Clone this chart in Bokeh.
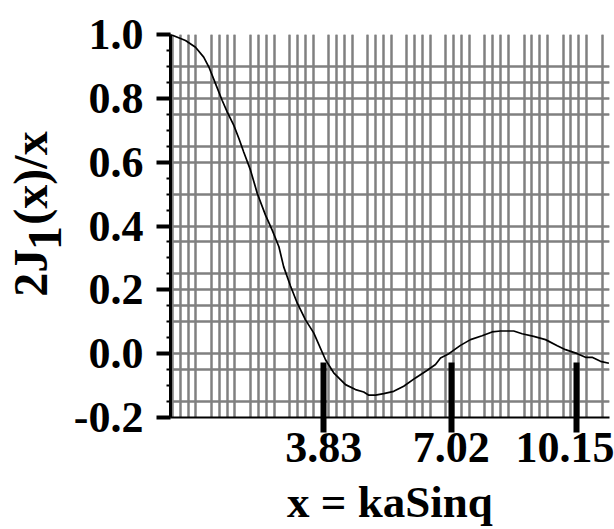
import numpy as np
from bokeh.plotting import figure
from bokeh.models import FixedTicker, Grid, LinearAxis, NumeralTickFormatter, Range1d
from bokeh.embed import file_html
from bokeh.resources import INLINE

# ---- data ----
x_vals = [0.0, 0.375, 0.625, 0.83, 0.96, 1.125, 1.29, 1.42, 1.58, 1.71, 1.83, 2.0,
          2.17, 2.375, 2.54, 2.71, 2.83, 3.0, 3.17, 3.375, 3.58, 3.875, 4.08, 4.375,
          4.625, 4.83, 4.96, 5.125, 5.33, 5.58, 5.83, 6.125, 6.42, 6.625, 6.75, 6.96,
          7.25, 7.5, 7.79, 8.04, 8.25, 8.58, 8.79, 9.08, 9.375, 9.67, 9.875, 10.17,
          10.375, 10.54, 10.75, 10.96]
y_vals = [1.0, 0.981, 0.96, 0.929, 0.898, 0.846, 0.794, 0.757, 0.716, 0.674, 0.632, 0.575,
          0.502, 0.434, 0.388, 0.335, 0.272, 0.212, 0.158, 0.106, 0.065, -0.019, -0.06, -0.097,
          -0.1125, -0.12, -0.130, -0.130, -0.125, -0.118, -0.102, -0.076, -0.052, -0.034, -0.0135, 0.0,
          0.026, 0.044, 0.056, 0.068, 0.071, 0.071, 0.0625, 0.054, 0.044, 0.025, 0.0125, 0.0,
          -0.0115, -0.0115, -0.024, -0.030]
x_tick_values = [3.83, 7.02, 10.15]
y_tick_values = [-0.2, 0.0, 0.2, 0.4, 0.6, 0.8, 1.0]
x_label = "x = kaSinq"
y_label_main = ["2J", "(x)/x"]
y_label_sub = "1"

# ---- layout ----
W, H = 614, 529
LEFT, RIGHT, TOP, BOTTOM = 170, 5, 34, 112
X_END = (W - LEFT - RIGHT) / 40.0
Y0, Y1 = -0.2, 1.0
FONT = "Liberation Serif"
NB = "\u00a0"

p = figure(width=W, height=H, output_backend="svg", toolbar_location=None,
           x_range=Range1d(0, X_END), y_range=Range1d(Y0, Y1),
           min_border_left=LEFT, min_border_right=RIGHT, min_border_top=TOP,
           min_border_bottom=BOTTOM)
p.outline_line_color = None
p.background_fill_color = "white"
p.border_fill_color = "white"

# ---- graph-paper grid ----
base, step = 1.8075, 0.1953
dark_x, light_x = [], []
for j in range(-10, 52):
    v = round(base + step * j, 4)
    if 0.02 < v < X_END:
        (light_x if j % 5 == 0 else dark_x).append(v)
light_y = [0.95, 0.7, 0.55, 0.45, 0.3, 0.05, -0.1]
dark_y = [round(v, 3) for v in np.arange(-0.15, 1.0001, 0.05)
          if all(abs(v - l) > 1e-6 for l in light_y)]

p.add_layout(Grid(dimension=0, ticker=FixedTicker(ticks=light_x),
                  grid_line_color="#d4d4d4", grid_line_width=1), "center")
p.add_layout(Grid(dimension=1, ticker=FixedTicker(ticks=light_y),
                  grid_line_color="#d4d4d4", grid_line_width=1), "center")
p.xgrid.ticker = FixedTicker(ticks=dark_x)
p.ygrid.ticker = FixedTicker(ticks=dark_y)
for g in (p.xgrid, p.ygrid):
    g.grid_line_color = "#808080"
    g.grid_line_width = 2

# ---- curve ----
p.line(x_vals, y_vals, line_color="black", line_width=1.7)

# ---- axes ----
minor_y = [round(v, 3) for v in np.arange(-0.2, 1.0001, 0.05)]
p.xaxis.ticker = FixedTicker(ticks=x_tick_values, minor_ticks=[])
p.xaxis.formatter = NumeralTickFormatter(format="0.00")
p.xaxis.major_tick_in = 55
p.xaxis.major_tick_out = 15
p.xaxis.major_tick_line_width = 6
p.xaxis.major_tick_line_color = "black"
p.xaxis.minor_tick_line_color = None
p.xaxis.axis_line_width = 2
p.xaxis.axis_line_color = "black"
p.xaxis.major_label_standoff = 0
p.xaxis.axis_label = x_label
p.xaxis.axis_label_standoff = 12
p.xaxis.axis_label_text_font = FONT
p.xaxis.axis_label_text_font_style = "bold"
p.xaxis.axis_label_text_font_size = "45px"
p.xaxis.axis_label_text_color = "black"

p.yaxis.ticker = FixedTicker(ticks=y_tick_values, minor_ticks=minor_y)
p.yaxis.formatter = NumeralTickFormatter(format="0.0")
p.yaxis.major_tick_in = 0
p.yaxis.major_tick_out = 14
p.yaxis.major_tick_line_width = 4
p.yaxis.major_tick_line_color = "black"
p.yaxis.minor_tick_in = 0
p.yaxis.minor_tick_out = 4
p.yaxis.minor_tick_line_width = 2
p.yaxis.minor_tick_line_color = "black"
p.yaxis.axis_line_width = 3
p.yaxis.axis_line_color = "black"
p.yaxis.major_label_standoff = 13

for ax in (p.xaxis, p.yaxis):
    ax.major_label_text_font = FONT
    ax.major_label_text_font_style = "bold"
    ax.major_label_text_font_size = "44px"
    ax.major_label_text_color = "black"

# y title: subscript "1" on the main axis, the rest on an outer blank axis
YL = 48
p.yaxis.axis_label = y_label_sub + NB * 2
p.yaxis.axis_label_standoff = 0
outer = LinearAxis(ticker=FixedTicker(ticks=[]), axis_line_color=None,
                   major_tick_line_color=None, minor_tick_line_color=None,
                   axis_label=NB * 2 + y_label_main[0] + NB * 2 + y_label_main[1],
                   axis_label_standoff=-42)
for ax in (p.yaxis[0], outer):
    ax.axis_label_text_font = FONT
    ax.axis_label_text_font_style = "bold"
    ax.axis_label_text_font_size = f"{YL}px"
    ax.axis_label_text_color = "black"
p.add_layout(outer, "left")

open("out.html", "w").write(file_html(p, INLINE))
